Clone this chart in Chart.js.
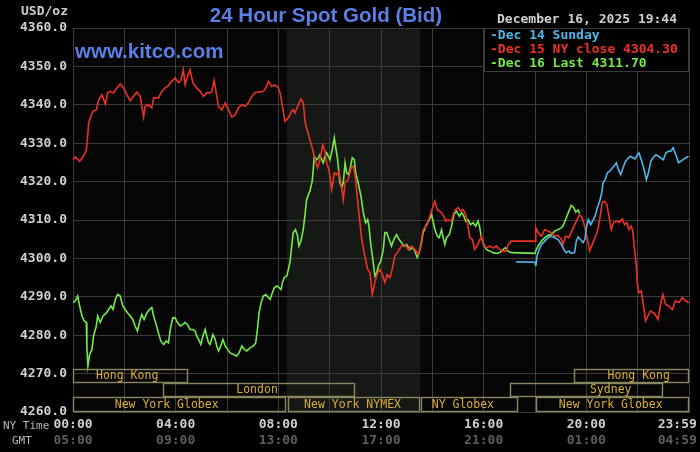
<!DOCTYPE html>
<html><head><meta charset="utf-8">
<script src="https://cdn.jsdelivr.net/npm/chart.js@4.4.1/dist/chart.umd.min.js"></script>
<style>html,body{margin:0;padding:0;background:#000;overflow:hidden}canvas{display:block}</style>
</head><body>
<canvas id="c" width="700" height="452"></canvas>
<script>
// ---- data (hour of NY day, USD/oz) ----
const dec15Red = [[0,4325.7],[0.09,4326.4],[0.26,4325.3],[0.41,4326.6],[0.52,4328.3],[0.57,4331.8],[0.61,4335.3],[0.70,4337.0],[0.78,4338.3],[0.91,4338.7],[1.00,4341.3],[1.13,4342.6],[1.26,4340.2],[1.35,4343.1],[1.45,4343.5],[1.58,4343.1],[1.71,4344.4],[1.84,4345.5],[1.97,4344.4],[2.10,4342.6],[2.23,4341.1],[2.36,4342.2],[2.49,4343.3],[2.62,4342.2],[2.68,4339.6],[2.75,4336.8],[2.81,4339.6],[2.94,4340.0],[3.07,4339.2],[3.14,4341.8],[3.33,4341.8],[3.46,4343.5],[3.59,4344.4],[3.72,4345.0],[3.85,4346.1],[3.98,4347.0],[4.11,4345.8],[4.20,4346.3],[4.30,4349.1],[4.37,4345.2],[4.46,4347.4],[4.56,4349.1],[4.67,4345.7],[4.82,4344.4],[4.95,4343.5],[5.08,4342.2],[5.21,4343.1],[5.34,4343.1],[5.41,4343.5],[5.50,4346.3],[5.58,4343.1],[5.67,4339.6],[5.80,4338.7],[5.93,4340.5],[6.06,4338.7],[6.19,4336.8],[6.32,4337.4],[6.44,4339.2],[6.58,4340.0],[6.70,4339.6],[6.83,4340.5],[6.97,4342.2],[7.09,4343.2],[7.22,4343.3],[7.42,4343.5],[7.55,4344.8],[7.61,4346.1],[7.74,4344.8],[7.87,4345.2],[8.00,4344.4],[8.07,4343.1],[8.16,4339.6],[8.26,4335.7],[8.39,4336.6],[8.52,4338.3],[8.58,4338.7],[8.65,4337.9],[8.75,4339.6],[8.88,4341.5],[8.97,4340.5],[9.04,4335.7],[9.10,4334.0],[9.23,4330.9],[9.32,4328.8],[9.43,4325.7],[9.53,4323.6],[9.62,4325.7],[9.73,4329.6],[9.82,4327.9],[9.88,4324.9],[9.97,4323.1],[10.08,4317.9],[10.18,4322.3],[10.27,4321.8],[10.36,4322.7],[10.47,4318.4],[10.53,4315.3],[10.60,4319.7],[10.72,4320.5],[10.86,4324.0],[10.92,4324.0],[11.01,4320.5],[11.11,4313.6],[11.25,4304.9],[11.37,4300.6],[11.48,4297.1],[11.57,4296.3],[11.66,4290.6],[11.76,4293.7],[11.87,4296.3],[11.96,4297.1],[12.05,4295.8],[12.15,4293.7],[12.24,4295.8],[12.35,4295.0],[12.45,4297.6],[12.54,4300.6],[12.67,4301.9],[12.80,4303.2],[12.93,4303.6],[13.06,4302.3],[13.19,4303.2],[13.32,4302.3],[13.45,4301.0],[13.51,4302.3],[13.64,4307.5],[13.77,4308.4],[13.90,4311.0],[14.01,4313.2],[14.10,4314.9],[14.19,4312.7],[14.29,4312.3],[14.42,4311.4],[14.53,4309.7],[14.61,4310.1],[14.75,4309.7],[14.81,4311.4],[14.91,4312.7],[15.00,4313.2],[15.10,4312.3],[15.20,4312.7],[15.30,4311.4],[15.39,4308.4],[15.46,4305.4],[15.56,4304.9],[15.65,4302.3],[15.74,4303.2],[15.85,4304.9],[15.91,4305.8],[16.00,4303.6],[16.11,4302.7],[16.24,4303.2],[16.37,4302.7],[16.50,4303.2],[16.63,4302.3],[16.75,4301.9],[16.89,4301.9],[16.95,4303.6],[17.08,4304.5],[18.00,4304.5],[18.03,4308.0],[18.12,4306.7],[18.25,4305.8],[18.38,4307.5],[18.51,4307.1],[18.64,4306.7],[18.77,4305.8],[18.90,4306.0],[19.03,4304.9],[19.09,4303.6],[19.19,4305.8],[19.32,4305.4],[19.46,4307.5],[19.61,4309.7],[19.74,4311.4],[19.84,4310.6],[19.93,4308.4],[20.02,4305.8],[20.13,4301.9],[20.23,4303.6],[20.36,4305.8],[20.45,4307.5],[20.54,4311.0],[20.62,4314.6],[20.71,4314.9],[20.80,4314.0],[20.88,4311.0],[20.97,4307.5],[21.06,4309.3],[21.19,4309.7],[21.30,4309.4],[21.40,4310.3],[21.49,4308.8],[21.58,4309.3],[21.66,4307.5],[21.75,4308.4],[21.81,4307.1],[21.88,4302.3],[21.95,4298.0],[21.98,4293.7],[22.05,4291.1],[22.14,4291.5],[22.23,4287.6],[22.31,4283.7],[22.40,4285.0],[22.49,4286.3],[22.62,4285.8],[22.72,4285.0],[22.79,4284.1],[22.88,4287.6],[22.98,4290.6],[23.09,4288.0],[23.21,4287.6],[23.35,4286.7],[23.47,4288.9],[23.61,4288.5],[23.74,4289.8],[23.87,4288.9],[23.99,4288.5]];

const dec16Green = [[0,4288.5],[0.09,4288.9],[0.18,4290.2],[0.26,4287.6],[0.35,4285.0],[0.44,4283.7],[0.52,4283.3],[0.54,4277.2],[0.58,4272.0],[0.65,4275.0],[0.74,4276.3],[0.80,4279.8],[0.91,4282.4],[0.96,4285.0],[1.06,4283.3],[1.17,4285.0],[1.30,4285.8],[1.39,4286.7],[1.48,4287.6],[1.56,4286.7],[1.65,4289.3],[1.74,4290.6],[1.84,4290.2],[1.94,4287.6],[2.03,4286.7],[2.13,4285.8],[2.23,4285.0],[2.33,4284.1],[2.42,4282.4],[2.51,4281.1],[2.62,4284.1],[2.68,4285.4],[2.77,4284.1],[2.88,4285.8],[2.98,4286.7],[3.07,4287.2],[3.14,4285.0],[3.24,4282.8],[3.33,4280.6],[3.42,4278.5],[3.53,4277.6],[3.63,4278.5],[3.72,4278.0],[3.79,4281.5],[3.89,4284.5],[3.98,4284.5],[4.07,4283.3],[4.18,4282.4],[4.28,4282.8],[4.37,4283.3],[4.46,4282.8],[4.56,4281.5],[4.67,4281.5],[4.76,4281.1],[4.82,4279.8],[4.89,4278.9],[4.98,4277.6],[5.06,4279.8],[5.15,4281.5],[5.21,4279.8],[5.28,4278.0],[5.34,4277.6],[5.45,4280.2],[5.54,4278.9],[5.60,4277.2],[5.67,4275.9],[5.76,4277.2],[5.84,4278.9],[5.93,4277.2],[6.03,4276.3],[6.12,4275.4],[6.25,4275.0],[6.38,4274.6],[6.47,4275.4],[6.58,4277.2],[6.68,4276.3],[6.77,4275.9],[6.90,4276.7],[7.03,4277.2],[7.12,4278.0],[7.20,4282.4],[7.25,4285.8],[7.33,4288.5],[7.42,4290.2],[7.51,4290.6],[7.61,4289.8],[7.68,4289.3],[7.77,4291.1],[7.85,4292.4],[7.94,4292.8],[8.03,4292.4],[8.11,4291.9],[8.16,4293.7],[8.23,4295.0],[8.33,4295.4],[8.39,4297.1],[8.46,4299.3],[8.52,4303.2],[8.58,4306.7],[8.67,4307.5],[8.75,4305.8],[8.80,4303.2],[8.88,4304.5],[8.97,4307.5],[9.04,4311.4],[9.10,4315.3],[9.17,4316.6],[9.23,4317.5],[9.32,4320.1],[9.36,4323.1],[9.40,4326.6],[9.49,4325.7],[9.56,4326.2],[9.62,4327.0],[9.69,4325.7],[9.75,4324.9],[9.82,4326.6],[9.88,4327.5],[9.95,4326.6],[10.01,4325.7],[10.10,4328.3],[10.18,4331.4],[10.23,4329.2],[10.31,4325.7],[10.40,4319.7],[10.47,4318.4],[10.53,4319.7],[10.60,4324.9],[10.66,4322.3],[10.73,4321.8],[10.79,4323.1],[10.88,4326.2],[10.96,4325.7],[11.01,4322.3],[11.11,4319.7],[11.22,4316.2],[11.31,4311.9],[11.40,4309.3],[11.48,4310.1],[11.53,4308.4],[11.61,4303.2],[11.70,4298.8],[11.76,4295.4],[11.83,4296.3],[11.92,4298.4],[11.99,4299.3],[12.09,4302.3],[12.15,4306.7],[12.22,4306.7],[12.32,4304.9],[12.41,4303.2],[12.50,4304.9],[12.60,4306.2],[12.71,4304.9],[12.80,4304.1],[12.89,4303.2],[13.00,4303.6],[13.12,4302.3],[13.23,4302.8],[13.32,4301.9],[13.41,4300.2],[13.49,4301.5],[13.58,4304.1],[13.64,4306.7],[13.77,4308.8],[13.88,4310.1],[13.97,4311.4],[14.03,4309.7],[14.10,4307.5],[14.19,4305.8],[14.27,4305.4],[14.36,4307.5],[14.42,4305.4],[14.49,4303.6],[14.55,4305.4],[14.66,4306.2],[14.75,4308.4],[14.84,4311.4],[14.94,4312.3],[15.05,4311.0],[15.14,4311.9],[15.23,4311.0],[15.30,4309.7],[15.39,4310.1],[15.49,4308.8],[15.59,4309.3],[15.69,4308.4],[15.78,4309.7],[15.85,4308.0],[15.91,4305.4],[16.00,4303.6],[16.11,4302.3],[16.24,4301.9],[16.37,4301.5],[16.50,4301.3],[16.63,4301.5],[16.75,4302.3],[16.86,4302.8],[16.95,4301.9],[17.08,4301.5],[18.00,4301.3],[18.05,4302.3],[18.12,4303.2],[18.25,4304.5],[18.38,4305.4],[18.51,4306.0],[18.64,4306.2],[18.77,4307.1],[18.90,4307.5],[19.03,4308.0],[19.09,4308.4],[19.22,4310.6],[19.32,4312.3],[19.41,4313.8],[19.51,4313.2],[19.59,4312.1],[19.68,4312.6],[19.73,4311.7]];

const dec14Blue = [[17.27,4299.1],[18.00,4299.0],[18.03,4298.0],[18.08,4300.6],[18.16,4302.3],[18.25,4303.6],[18.38,4304.5],[18.51,4305.4],[18.64,4305.8],[18.77,4305.4],[18.90,4304.9],[19.03,4303.6],[19.09,4302.8],[19.16,4301.9],[19.22,4301.5],[19.32,4301.9],[19.41,4301.3],[19.54,4301.5],[19.61,4304.5],[19.68,4305.6],[19.77,4304.9],[19.87,4304.1],[19.95,4305.1],[20.00,4308.0],[20.08,4310.1],[20.17,4308.8],[20.26,4309.9],[20.34,4311.0],[20.43,4313.2],[20.52,4314.9],[20.60,4317.1],[20.65,4319.7],[20.73,4320.5],[20.82,4322.3],[20.91,4322.7],[21.02,4323.6],[21.12,4324.4],[21.17,4324.9],[21.25,4323.1],[21.34,4321.8],[21.43,4323.6],[21.53,4325.3],[21.64,4326.2],[21.73,4326.6],[21.82,4326.2],[21.90,4325.9],[21.99,4327.0],[22.05,4327.5],[22.16,4325.3],[22.25,4323.1],[22.34,4320.5],[22.42,4322.3],[22.51,4325.3],[22.60,4326.2],[22.71,4327.0],[22.81,4326.6],[22.90,4326.2],[23.00,4325.7],[23.10,4327.5],[23.20,4327.9],[23.29,4327.9],[23.38,4328.8],[23.49,4327.0],[23.59,4324.9],[23.68,4325.3],[23.77,4325.7],[23.87,4326.2],[23.98,4326.6]];

const legendLabels = ['-Dec 14 Sunday', '-Dec 15 NY close 4304.30', '-Dec 16 Last 4311.70'];
const tickHours = [0, 4, 8, 12, 16, 20, 24];
const nyTimeLabels = ['00:00', '04:00', '08:00', '12:00', '16:00', '20:00', '23:59'];
const gmtLabels = ['05:00', '09:00', '13:00', '17:00', '21:00', '01:00', '04:59'];
const titleText = '24 Hour Spot Gold (Bid)';
const dateText = 'December 16, 2025 19:44';
// trading sessions: [name, row, startHour, endHour, labelHour]
const sessions = [
  ['Hong Kong', 0, 0, 4.49, 2.11],
  ['Hong Kong', 0, 19.5, 24, 22.04],
  ['London', 1, 3.51, 10.98, 7.17],
  ['Sydney', 1, 17.02, 22.97, 20.95],
  ['New York Globex', 2, 0, 8.29, 3.65],
  ['New York NYMEX', 2, 8.36, 13.51, 10.89],
  ['NY Globex', 2, 13.55, 17.33, 15.19],
  ['New York Globex', 2, 18.03, 24, 20.95]
];
const nymexShade = [8.33, 13.53];

// ---- styles ----
const C = { blue: '#4fb6ea', red: '#ec3224', green: '#74ea48', grid: '#3b3b3b', text: '#cfcfcf',
  dim: '#5e5e5e', title: '#5a7fe6', box: '#8a8660', boxText: '#dcaf33', shade: '#151815', plot: '#060606' };
const MONO = '"DejaVu Sans Mono", monospace';

const toPts = arr => arr.map(p => ({ x: p[0], y: p[1] }));

const decor = {
  id: 'decor',
  beforeDraw(chart) {
    const { ctx, chartArea: a, scales: { x } } = chart;
    ctx.save();
    ctx.fillStyle = '#000';
    ctx.fillRect(0, 0, chart.width, chart.height);
    ctx.fillStyle = C.plot;
    ctx.fillRect(a.left, a.top, a.right - a.left, a.bottom - a.top);
    const s0 = x.getPixelForValue(nymexShade[0]), s1 = x.getPixelForValue(nymexShade[1]);
    ctx.fillStyle = C.shade;
    ctx.fillRect(s0, a.top, s1 - s0, a.bottom - a.top);
    ctx.restore();
  },
  afterDatasetsDraw(chart) {
    const { ctx, chartArea: a, scales: { x } } = chart;
    const rowTop = [a.bottom - 43, a.bottom - 29, a.bottom - 15];
    const rowH = [14, 14, 15];
    ctx.save();
    ctx.strokeStyle = C.box;
    ctx.lineWidth = 1.4;
    ctx.font = '11.5px ' + MONO;
    ctx.fillStyle = C.boxText;
    ctx.textAlign = 'center';
    ctx.textBaseline = 'middle';
    sessions.forEach(s => {
      const x0 = Math.round(x.getPixelForValue(s[2])) + 0.5;
      const x1 = Math.round(x.getPixelForValue(s[3])) - 0.5;
      const t = rowTop[s[1]] + 0.5;
      ctx.strokeRect(x0, t, x1 - x0, rowH[s[1]] - 1);
      ctx.fillText(s[0], x.getPixelForValue(s[4]), t + rowH[s[1]] / 2);
    });
    ctx.restore();
  },
  afterDraw(chart) {
    const { ctx, chartArea: a } = chart;
    ctx.save();
    // title
    ctx.fillStyle = C.title;
    ctx.textAlign = 'center';
    ctx.textBaseline = 'middle';
    ctx.font = 'bold 20.5px "Liberation Sans", Arial, sans-serif';
    ctx.fillText(titleText, 326, 16);
    ctx.textAlign = 'left';
    ctx.fillText('www.kitco.com', 75, 52);
    // units
    ctx.fillStyle = C.text;
    ctx.font = 'bold 13px ' + MONO;
    ctx.fillText('USD/oz', 21, 12);
    // date
    ctx.fillText(dateText, 497, 20);
    // legend box
    const lx = 484, ly = a.top, lw = a.right - 484, lh = 43;
    ctx.fillStyle = '#000';
    ctx.fillRect(lx, ly, lw, lh);
    ctx.strokeStyle = C.grid;
    ctx.lineWidth = 1;
    ctx.strokeRect(lx + 0.5, ly + 0.5, lw - 1, lh);
    const cols = [C.blue, C.red, C.green];
    legendLabels.forEach((t, i) => {
      ctx.fillStyle = cols[i];
      ctx.fillText(t, 490, ly + 8 + i * 14);
    });
    // axis captions
    ctx.font = '11px ' + MONO;
    ctx.fillStyle = '#b8b8b8';
    ctx.fillText('NY Time', 3, 426);
    ctx.fillText('GMT', 12, 441);
    ctx.restore();
  }
};

new Chart(document.getElementById('c'), {
  type: 'line',
  data: {
    datasets: [
      { label: 'Dec 14 Sunday', data: toPts(dec14Blue), borderColor: C.blue },
      { label: 'Dec 15 NY close', data: toPts(dec15Red), borderColor: C.red },
      { label: 'Dec 16 Last', data: toPts(dec16Green), borderColor: C.green }
    ].map(d => Object.assign(d, { borderWidth: 1.6, pointRadius: 0, tension: 0, fill: false }))
  },
  options: {
    responsive: false,
    animation: false,
    devicePixelRatio: 1,
    layout: { padding: { left: 0, right: 11, top: 28, bottom: 2 } },
    plugins: { legend: { display: false }, tooltip: { enabled: false } },
    scales: {
      x: {
        type: 'linear', position: 'bottom', min: 0, max: 24, weight: 0,
        grid: { color: C.grid, drawTicks: false, lineWidth: 1 },
        border: { color: C.grid },
        ticks: {
          stepSize: 2, autoSkip: false, maxRotation: 0, padding: 5,
          color: C.text, font: { family: MONO, size: 13, weight: 'bold' },
          callback: v => { const i = tickHours.indexOf(v); return i < 0 ? '' : (v === 24 ? nyTimeLabels[i] + '   ' : nyTimeLabels[i]); }
        },
        afterFit: s => { s.height = 20; s.paddingLeft = 0; s.paddingRight = 0; }
      },
      x2: {
        type: 'linear', position: 'bottom', min: 0, max: 24, weight: 1,
        grid: { display: false, drawTicks: false },
        border: { display: false },
        ticks: {
          stepSize: 2, autoSkip: false, maxRotation: 0, padding: 1,
          color: C.dim, font: { family: MONO, size: 13, weight: 'bold' },
          callback: v => { const i = tickHours.indexOf(v); return i < 0 ? '' : (v === 24 ? gmtLabels[i] + '   ' : gmtLabels[i]); }
        },
        afterFit: s => { s.height = 18; s.paddingLeft = 0; s.paddingRight = 0; }
      },
      y: {
        type: 'linear', min: 4260, max: 4360,
        grid: { color: C.grid, drawTicks: false, lineWidth: 1 },
        border: { color: C.grid },
        ticks: { stepSize: 10, padding: 6, color: C.text, font: { family: MONO, size: 13, weight: 'bold' },
          callback: v => v.toFixed(1) },
        afterFit: s => { s.width = 73; s.paddingTop = 0; s.paddingBottom = 0; }
      }
    }
  },
  plugins: [decor]
});
</script>
</body></html>
